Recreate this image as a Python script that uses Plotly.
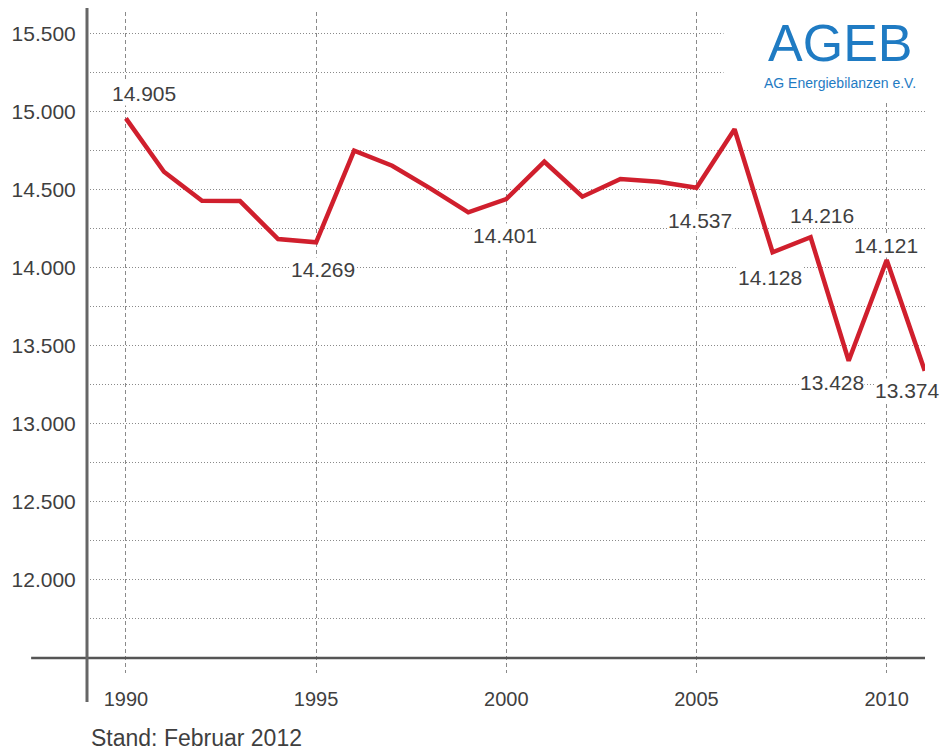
import plotly.graph_objects as go

# ---- data ----
years = list(range(1990, 2012))
consumption = [14957, 14615, 14429, 14427, 14184, 14163, 14750, 14653, 14508, 14355,
               14440, 14679, 14455, 14568, 14551, 14512, 14887, 14099, 14195, 13404,
               14049, 13340]

label_years = [1990, 1995, 2000, 2005, 2007, 2008, 2009, 2010, 2011]
label_texts = ["14.905", "14.269", "14.401", "14.537", "14.128", "14.216",
               "13.428", "14.121", "13.374"]

x_tick_vals = [1990, 1995, 2000, 2005, 2010]
y_grid_vals = list(range(11750, 15501, 250))
y_label_vals = list(range(12000, 15501, 500))

footer_text = "Stand: Februar 2012"
logo_text = "AGEB"
logo_sub = "AG Energiebilanzen e.V."

# ---- styling / placement ----
label_offsets = [(18, 25), (7, -27), (-1, -36), (3, -33), (-3, -25), (11, 22),
                 (-17, -22), (-1, 15), (-17, -20)]

W, H = 943, 751
L, R, T, B = 85, 18, 12, 78
plot_w = W - L - R
plot_h = H - T - B

def px_to_paper_x(px):
    return (px - L) / plot_w

def px_to_paper_y(py):
    return (H - B - py) / plot_h

def fmt(v):
    return f"{v:,}".replace(",", ".")

y_ticktext = [fmt(v) if v in y_label_vals else "" for v in y_grid_vals]

TXT = "#3f3f3f"
FONT = "Liberation Sans, Arial, sans-serif"
BLUE = "#1f7bc3"

fig = go.Figure()
fig.add_trace(go.Scatter(
    x=years, y=consumption, mode="lines",
    line=dict(color="#d01f2d", width=4.5),
    hoverinfo="skip", showlegend=False,
))

annotations = []
lookup = dict(zip(years, consumption))
for yr, txt, (dx, dy) in zip(label_years, label_texts, label_offsets):
    annotations.append(dict(
        x=yr, y=lookup[yr], xref="x", yref="y", text=txt, showarrow=False,
        xshift=dx, yshift=dy, bgcolor="white", borderpad=0,
        font=dict(family=FONT, size=21, color=TXT),
    ))

annotations.append(dict(
    x=px_to_paper_x(87), y=px_to_paper_y(738), xref="paper", yref="paper",
    text=footer_text, showarrow=False, xanchor="left", yanchor="middle",
    font=dict(family=FONT, size=23, color=TXT),
))
annotations.append(dict(
    x=px_to_paper_x(840), y=px_to_paper_y(43), xref="paper", yref="paper",
    text=logo_text, showarrow=False, xanchor="center", yanchor="middle",
    font=dict(family=FONT, size=52, color=BLUE),
))
annotations.append(dict(
    x=px_to_paper_x(840), y=px_to_paper_y(83), xref="paper", yref="paper",
    text=logo_sub, showarrow=False, xanchor="center", yanchor="middle",
    font=dict(family=FONT, size=14, color=BLUE),
))

shapes = [
    # white area behind logo (interrupts grid)
    dict(type="rect", xref="paper", yref="paper",
         x0=px_to_paper_x(723), x1=1.0, y0=px_to_paper_y(100), y1=1.0,
         fillcolor="white", line=dict(width=0), layer="above"),
    # horizontal base axis, extending left of the y axis
    dict(type="line", xref="paper", yref="y",
         x0=px_to_paper_x(29), x1=1.0, y0=11500, y1=11500,
         line=dict(color="#555555", width=2.5)),
    # vertical axis, extending below the base axis
    dict(type="line", xref="paper", yref="paper",
         x0=0, x1=0, y0=px_to_paper_y(702), y1=px_to_paper_y(8),
         line=dict(color="#666666", width=3)),
]

fig.update_layout(
    width=W, height=H,
    margin=dict(l=L, r=R, t=T, b=B, pad=0),
    paper_bgcolor="white", plot_bgcolor="white",
    xaxis=dict(
        range=[1988.977, 2011.007], tickmode="array", tickvals=x_tick_vals,
        ticktext=[str(v) for v in x_tick_vals],
        showgrid=True, gridcolor="#8a8a8a", gridwidth=1, griddash="4px,3px",
        zeroline=False, showline=False,
        ticks="outside", ticklen=8, tickcolor="rgba(0,0,0,0)",
        tickfont=dict(family=FONT, size=20, color=TXT),
        fixedrange=True,
    ),
    yaxis=dict(
        range=[11404, 15638], tickmode="array", tickvals=y_grid_vals,
        ticktext=y_ticktext,
        showgrid=True, gridcolor="#8a8a8a", gridwidth=1, griddash="1px,2px",
        zeroline=False, showline=False,
        ticks="outside", ticklen=6, tickcolor="rgba(0,0,0,0)",
        tickfont=dict(family=FONT, size=21, color=TXT),
        fixedrange=True,
    ),
    annotations=annotations,
    shapes=shapes,
    showlegend=False,
)

fig.write_html(
    "out.html",
    config={"displayModeBar": False},
    post_script="document.body.style.margin='0';document.body.style.overflow='hidden';",
)
